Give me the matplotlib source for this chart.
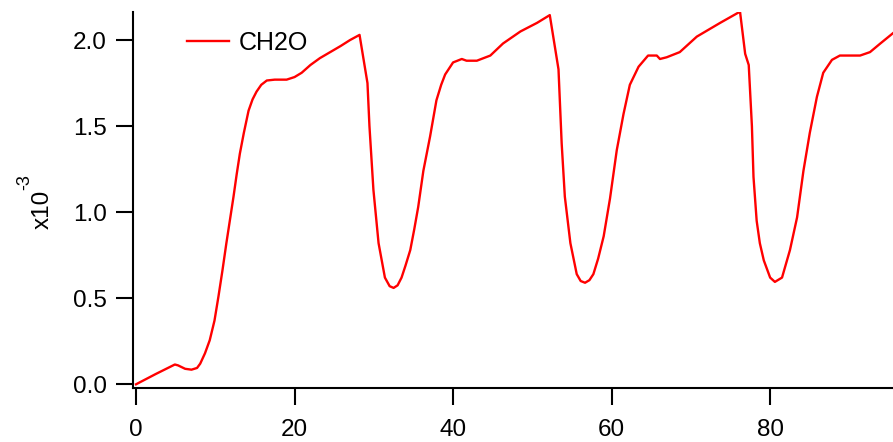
from matplotlib import pyplot as plt
import numpy as np

plt.rcParams['font.family'] = ['Liberation Sans', 'DejaVu Sans']

# CH2O signal (in units of 1e-3) vs time
time = [0, 2.5, 4.9, 5.3, 6.2, 7.0, 7.7, 8.1, 8.7, 9.3, 9.9, 10.4, 10.9, 11.4,
        11.9, 12.3, 12.7, 13.1, 13.6, 14.2, 14.7, 15.2, 15.8, 16.5, 17.5, 19.0,
        20.0, 20.9, 22.0, 23.2, 24.5, 25.8, 27.0, 28.2, 29.2, 29.45, 29.95, 30.6,
        31.4, 32.0, 32.5, 33.0, 33.5, 34.0, 34.6, 35.1, 35.6, 36.25, 37.1, 37.9,
        38.5, 39.0, 40.0, 41.1, 41.7, 43.0, 44.7, 46.3, 48.5, 50.6, 52.2, 53.3,
        53.7, 54.1, 54.8, 55.6, 56.1, 56.65, 57.2, 57.7, 58.3, 59.0, 59.8, 60.65,
        61.5, 62.3, 63.4, 64.6, 65.7, 66.1, 66.95, 68.6, 70.75, 73.7, 76.2, 76.85,
        77.3, 77.7, 77.9, 78.3, 78.7, 79.2, 80.0, 80.6, 81.5, 82.5, 83.4, 84.2,
        85.0, 85.9, 86.7, 87.8, 88.8, 91.35, 92.6, 93.9, 95.5]
ch2o = [0.0, 0.06, 0.115, 0.11, 0.09, 0.085, 0.095, 0.12, 0.18, 0.256, 0.37, 0.51,
        0.66, 0.82, 0.97, 1.09, 1.22, 1.34, 1.46, 1.59, 1.655, 1.70, 1.74, 1.765,
        1.77, 1.77, 1.785, 1.81, 1.855, 1.895, 1.93, 1.965, 2.0, 2.03, 1.75, 1.50,
        1.13, 0.82, 0.62, 0.57, 0.56, 0.575, 0.62, 0.69, 0.78, 0.90, 1.03, 1.24,
        1.44, 1.65, 1.74, 1.80, 1.87, 1.89, 1.88, 1.88, 1.91, 1.98, 2.05, 2.10,
        2.145, 1.83, 1.40, 1.09, 0.82, 0.64, 0.60, 0.59, 0.605, 0.64, 0.73, 0.86,
        1.08, 1.36, 1.57, 1.74, 1.845, 1.91, 1.91, 1.89, 1.90, 1.93, 2.02, 2.10,
        2.165, 1.92, 1.855, 1.50, 1.205, 0.95, 0.82, 0.72, 0.62, 0.595, 0.62, 0.78,
        0.97, 1.24, 1.46, 1.67, 1.81, 1.885, 1.91, 1.91, 1.93, 1.98, 2.04]

xticks = [0, 20, 40, 60, 80]
yticks = [0.0, 0.5, 1.0, 1.5, 2.0]

fig = plt.figure(figsize=(8.93, 4.42), dpi=100)
ax = fig.add_axes([133 / 893, 54 / 442, 1 - 133 / 893, (388 - 12) / 442])

ax.plot(time, ch2o, color='#ff0000', linewidth=1.7, label='CH2O')

ax.set_xlim(-0.38, 95.5)
ax.set_ylim(-0.0215, 2.163)
ax.set_xticks(xticks)
ax.set_yticks(yticks)
ax.set_yticklabels(['%.1f' % v for v in yticks])

for s in ['top', 'right']:
    ax.spines[s].set_visible(False)
for s in ['left', 'bottom']:
    ax.spines[s].set_linewidth(1.5)
ax.tick_params(direction='out', length=12, width=1.5, labelsize=17.5)
ax.tick_params(axis='x', pad=10)
ax.tick_params(axis='y', pad=7)

# Igor-style axis multiplier label
fig.text(43 / 893, 1 - 209 / 442, 'x10', rotation=90, ha='center', va='center',
         fontsize=17.5)
fig.text(25 / 893, 1 - 182 / 442, '-3', rotation=90, ha='center', va='center',
         fontsize=13)

ax.legend(loc='upper left', bbox_to_anchor=(0.041, 1.01), frameon=False,
          fontsize=18, handlelength=1.7, handletextpad=0.4)

fig.savefig('out.png', dpi=100)
